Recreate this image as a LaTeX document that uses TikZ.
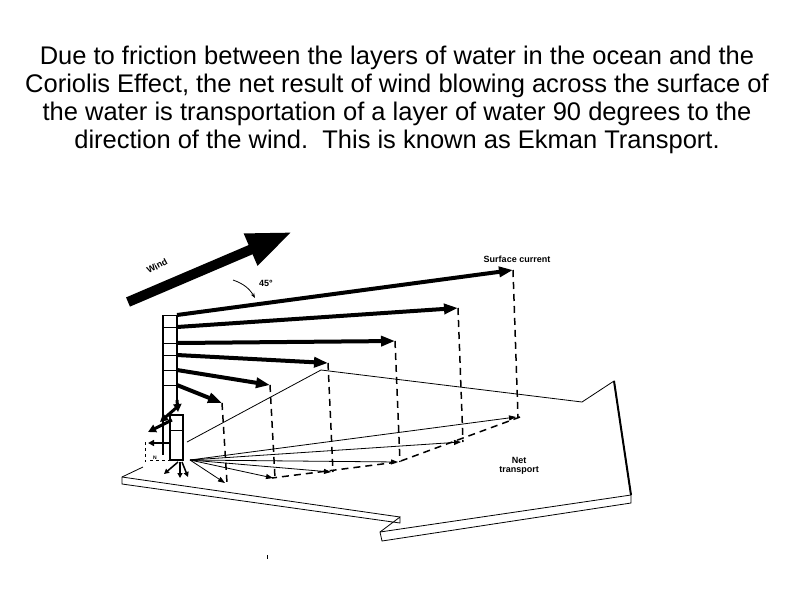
\documentclass[tikz,border=0pt]{standalone}
\usepackage{fontspec}
\setmainfont{Liberation Sans}
\usetikzlibrary{arrows.meta}
\begin{document}
\begin{tikzpicture}[x=1pt,y=-1pt,
  cur/.style={line width=4pt,-{Triangle[width=10pt,length=14pt]}},
  thin/.style={line width=0.8pt},
  dsh/.style={line width=1.5pt,dash pattern=on 7pt off 5pt},
  lbl/.style={font=\bfseries\small}]
\useasboundingbox (0,0) rectangle (794,595);
\node[align=center,font=\fontsize{25.5}{28}\selectfont] (title) at (397,100)
{Due to friction between the layers of water in the ocean and the\\Coriolis Effect, the net result of wind blowing across the surface of\\the water is transportation of a layer of water 90 degrees to the\\direction of the wind.\ \ This is known as Ekman Transport.};
% net transport arrow outline
\coordinate (a1) at (122,477); \coordinate (a2) at (122,484);
\coordinate (a3) at (400,517); \coordinate (a4) at (380,532);
\coordinate (a5) at (382,541); \coordinate (a6) at (631,503);
\coordinate (a7) at (631,495); \coordinate (a8) at (614,381);
\coordinate (a9) at (582,402); \coordinate (a10) at (321,370);
\coordinate (a11) at (187,442); \coordinate (a12) at (143,467);
\draw[thin] (a12) -- (a1) -- (a2) -- (400,523) -- (a3) -- (a4) -- (a5) -- (a6) -- (a7) -- (a8) -- (a9) -- (a10) -- (a11);
\draw[thin] (a4) -- (a7);
\draw[line width=2pt] (a8) -- (a7);
\draw[thin] (a1) -- (a3);
\node[align=center,font=\bfseries\small\linespread{0.8}\selectfont] (nt) at (519,466) {Net\\transport};
% column
\draw[line width=1.5pt] (163,315) -- (163,455);
\draw[line width=1.5pt] (177,315) -- (177,400);
\draw[thin] (163,315) -- (177,315);
\foreach \yy in {327,343,355,370,385} \draw[thin] (163,\yy) -- (177,\yy);
\draw[line width=1.5pt] (170,415) rectangle (183,460);
\draw[thin] (170,430) -- (183,430);
% wind
\coordinate (w0) at (128,302); \coordinate (w1) at (292,232);
\draw[line width=10pt,-{Triangle[width=32pt,length=45pt]}] (w0) -- (w1);
\node[lbl,rotate=28] (wind) at (157,266) {Wind};
\node[lbl] (ang) at (266,283) {45°};
\draw[thin,-{Stealth[length=5pt]}] (233,280) to[bend left=20] (255,298);
\node[font=\bfseries\small] (sc) at (517,259) {Surface current};
% current arrows and dashed drops
\foreach \ys/\ex/\ey/\by in {315/513/270/417, 327/458/308/442, 343/395/341/462, 355/328/363/472, 370/270/385/478, 385/222/403/483}{
  \draw[cur] (177,\ys) -- (\ex,\ey);
  \draw[dsh] (\ex,\ey) -- (\ex+5,\by);
  \draw[thin,-{Triangle[width=5pt,length=7pt]}] (190,460) -- (\ex+3,\by);
}
\draw[dsh] (520,417) -- (398,462) -- (272,478);
% lower small arrows
\draw[line width=3pt,-{Triangle[width=8pt,length=8pt]}] (177,400) -- (178,412);
\draw[line width=3pt,-{Triangle[width=8pt,length=8pt]}] (176,408) -- (160,422);
\draw[line width=3pt,-{Triangle[width=8pt,length=8pt]}] (172,420) -- (148,432);
\draw[line width=2pt,-{Triangle[width=6pt,length=6pt]}] (170,443) -- (148,443);
\draw[thin,dashed] (145,442) -- (145,462) (150,460) -- (170,460);
\node[font=\bfseries\tiny] (n) at (155,458) {N};
\draw[line width=1.5pt,-{Triangle[width=5pt,length=5pt]}] (178,462) -- (164,474);
\draw[line width=1.5pt,-{Triangle[width=5pt,length=5pt]}] (180,462) -- (180,478);
\draw[line width=1.5pt,-{Triangle[width=5pt,length=5pt]}] (182,462) -- (188,477);
\draw[thin] (267,555) -- (267,559);
\end{tikzpicture}
\end{document}
